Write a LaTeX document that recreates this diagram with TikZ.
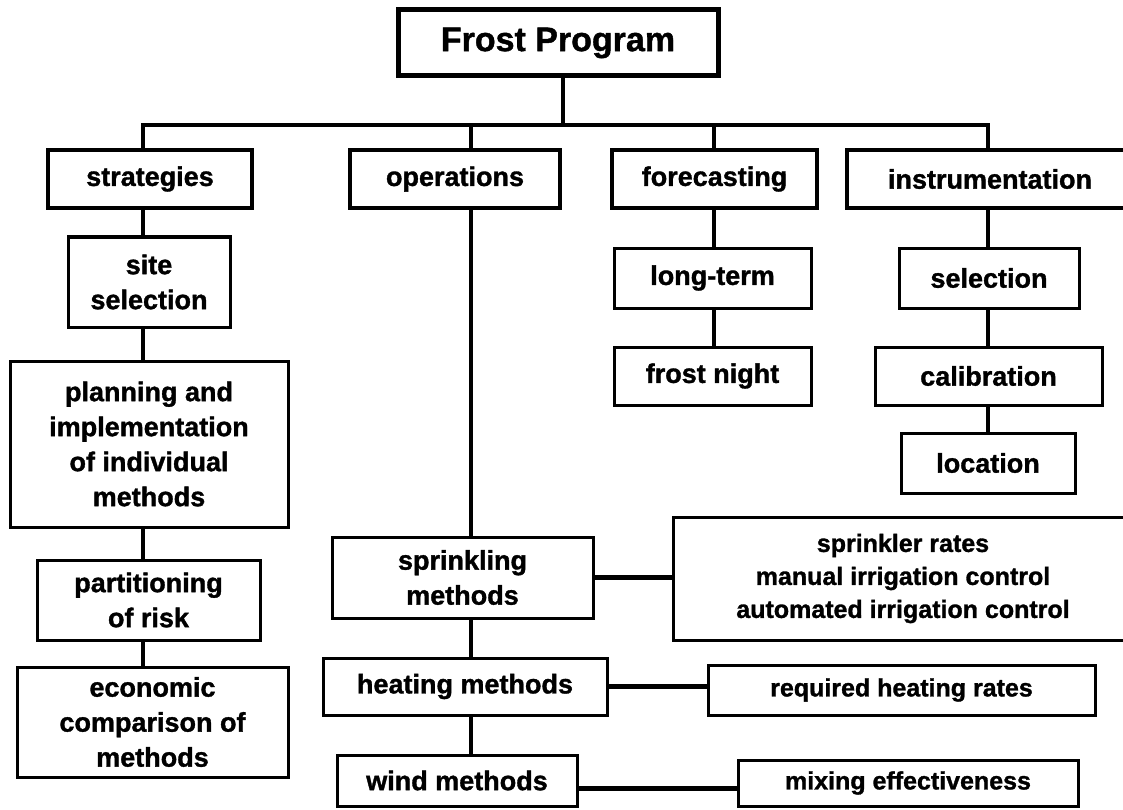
\documentclass[tikz,border=0pt]{standalone}
\usepackage{fontspec}
\setmainfont{Liberation Sans}[BoldFeatures={FakeBold=1.2}]
\tikzset{
  rootbox/.style={draw, line width=5pt, inner sep=0pt, font=\fontsize{34}{40}\selectfont\bfseries},
  headbox/.style={draw, line width=4.5pt, inner sep=0pt, font=\fontsize{27}{35}\selectfont\bfseries},
  subbox/.style={draw, line width=3pt, inner sep=0pt, align=center, font=\fontsize{27}{35}\selectfont\bfseries},
  notebox/.style={draw, line width=3pt, inner sep=0pt, align=center, font=\fontsize{25}{33}\selectfont\bfseries},
  tline/.style={line width=4.5pt}
}

\begin{document}
\begin{tikzpicture}[x=1pt, y=-1pt]
    \path[use as bounding box, clip] (0,0) rectangle (1123,810);

    \node[rootbox, minimum width=320, minimum height=66] (root) at (558,43) {Frost Program\hspace{28pt}};

    \node[headbox, minimum width=204, minimum height=58] (strat) at (150,179) {strategies};
    \node[headbox, minimum width=210, minimum height=58] (oper) at (455,179) {operations};
    \node[headbox, minimum width=205, minimum height=58] (fore) at (714.5,179) {forecasting};
    \node[headbox, minimum width=286, minimum height=58] (instr) at (990,179) {instrumentation\hspace{14pt}};

    % strategies
    \node[subbox, minimum width=162, minimum height=90] (site) at (149,282) {site\\selection};
    \node[subbox, minimum width=278, minimum height=166] (plan) at (149,444) {planning and\\implementation\\of individual\\methods};
    \node[subbox, minimum width=223, minimum height=80] (part) at (148.5,600) {partitioning\\of risk};
    \node[subbox, minimum width=271, minimum height=110] (econ) at (152.5,722) {economic\\comparison of\\methods};

    % forecasting and instrumentation
    \node[subbox, minimum width=197, minimum height=60] (long) at (712.5,278) {long-term};
    \node[subbox, minimum width=197, minimum height=58] (night) at (712.5,376) {frost night};
    \node[subbox, minimum width=180, minimum height=60] (sel) at (989,278) {selection};
    \node[subbox, minimum width=227, minimum height=58] (cal) at (988.5,376) {calibration};
    \node[subbox, minimum width=174, minimum height=60] (loc) at (988,463) {location};

    % operations
    \node[subbox, minimum width=261, minimum height=81] (sprk) at (462.5,577.5) {sprinkling\\methods};
    \node[subbox, minimum width=284, minimum height=57] (heat) at (465,686.5) {heating methods};
    \node[subbox, minimum width=240, minimum height=51] (wind) at (457,780.5) {wind methods};
    \node[notebox, minimum width=460, minimum height=123] (rates) at (903,578.5) {sprinkler rates\\manual irrigation control\\automated irrigation control\hspace{24pt}};
    \node[notebox, minimum width=387, minimum height=50] (req) at (901.5,690) {required heating rates};
    \node[notebox, minimum width=340, minimum height=46] (mix) at (908,783) {mixing effectiveness};

    \coordinate (bar) at (0,125);
    \coordinate (colA) at (143,0);
    \coordinate (colB) at (471,0);
    \coordinate (colC) at (714,0);
    \coordinate (colD) at (988,0);
    \coordinate (colR) at (563,0);

    \draw[tline] (colR |- root.south) -- (colR |- bar);
    \draw[tline] (colA |- strat.north) -- (colA |- bar) -- (colD |- bar) -- (colD |- instr.north);
    \draw[tline] (colB |- bar) -- (colB |- oper.north);
    \draw[tline] (colC |- bar) -- (colC |- fore.north);

    \draw[tline] (colA |- strat.south) -- (colA |- site.north);
    \draw[tline] (colA |- site.south) -- (colA |- plan.north);
    \draw[tline] (colA |- plan.south) -- (colA |- part.north);
    \draw[tline] (colA |- part.south) -- (colA |- econ.north);

    \draw[tline] (colC |- fore.south) -- (colC |- long.north);
    \draw[tline] (colC |- long.south) -- (colC |- night.north);
    \draw[tline] (colD |- instr.south) -- (colD |- sel.north);
    \draw[tline] (colD |- sel.south) -- (colD |- cal.north);
    \draw[tline] (colD |- cal.south) -- (colD |- loc.north);

    \draw[tline] (colB |- oper.south) -- (colB |- sprk.north);
    \draw[tline] (colB |- sprk.south) -- (colB |- heat.north);
    \draw[tline] (colB |- heat.south) -- (colB |- wind.north);

    \draw[tline] (sprk.east) -- (sprk.east -| rates.west);
    \draw[tline] (heat.east) -- (heat.east -| req.west);
    \draw[tline] ([yshift=-8pt]wind.east) -- ([yshift=-8pt]wind.east -| mix.west);
\end{tikzpicture}
\end{document}
